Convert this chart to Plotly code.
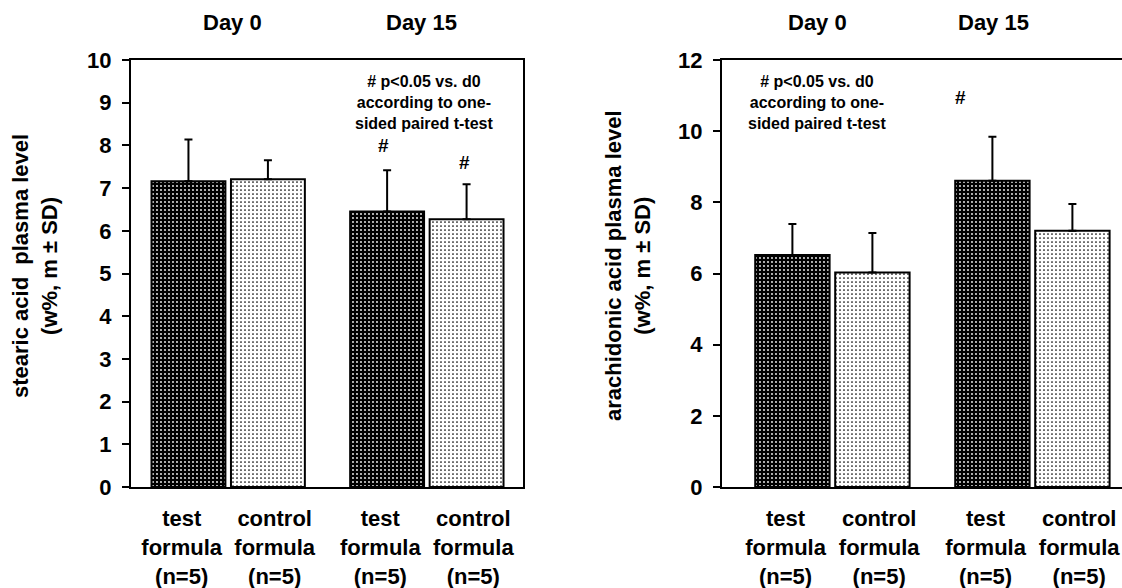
import plotly.graph_objects as go

# ---- data ----
categories = ["test<br>formula<br>(n=5)", "control<br>formula<br>(n=5)",
              "test<br>formula<br>(n=5)", "control<br>formula<br>(n=5)"]
days = ["Day 0", "Day 15"]
formula = ["test", "control", "test", "control"]
stearic_mean = [7.16, 7.21, 6.45, 6.27]
stearic_sd = [0.98, 0.44, 0.97, 0.82]
arach_mean = [6.52, 6.03, 8.61, 7.20]
arach_sd = [0.87, 1.11, 1.23, 0.75]
note = "# p<0.05 vs. d0<br>according to one-<br>sided paired t-test"
ytitle_left = "stearic acid  plasma level<br>(w%, m ± SD)"
ytitle_right = "arachidonic acid plasma level<br>(w%, m ± SD)"

W, H = 1122, 588
T = 60           # plot top at y=60
B = H - 487      # plot bottom at y=487
FONT = "Liberation Sans, Arial, Helvetica, sans-serif"


def px(xp):
    return xp / W


def py(yp):
    return (H - B - yp) / (H - T - B)


# layout positions (bars in pairs, gap between days)
pos = [i + 0.5 * (i // 2) for i in range(len(categories))]
label_pos = [p + (-0.085 if f == "test" else 0.085) for p, f in zip(pos, formula)]

styles = {
    "test": dict(bgcolor="black", fgcolor="white", solidity=0.16, size=4),
    "control": dict(bgcolor="white", fgcolor="black", solidity=0.15, size=4),
}

fig = go.Figure()


def add_panel(means, sds, xa, ya):
    for f in ["test", "control"]:
        idx = [i for i, v in enumerate(formula) if v == f]
        st = styles[f]
        fig.add_trace(go.Bar(
            x=[pos[i] for i in idx],
            y=[means[i] for i in idx],
            width=0.93,
            marker=dict(color=st["bgcolor"],
                        line=dict(color="black", width=2),
                        pattern=dict(shape=".", bgcolor=st["bgcolor"], fgcolor=st["fgcolor"],
                                     size=st["size"], solidity=st["solidity"], fillmode="replace")),
            error_y=dict(type="data", symmetric=False,
                         array=[sds[i] for i in idx], arrayminus=[0] * len(idx),
                         color="black", thickness=2, width=4),
            xaxis=xa, yaxis=ya, showlegend=False, hoverinfo="skip",
        ))


add_panel(stearic_mean, stearic_sd, "x", "y")
add_panel(arach_mean, arach_sd, "x2", "y2")

axis_common = dict(showline=True, linecolor="black", linewidth=2, showgrid=False,
                   zeroline=False, automargin=False, fixedrange=True)
xcommon = dict(axis_common, tickvals=label_pos, ticktext=categories, ticks="", tickangle=0,
               tickfont=dict(size=22, family=FONT, color="black", weight="bold"),
               ticklabelstandoff=11, mirror=True)
ycommon = dict(axis_common, ticks="outside", ticklen=7, tickwidth=2, tickcolor="black",
               tickfont=dict(size=22, family=FONT, color="black", weight="bold"),
               ticklabelstandoff=6)

fig.update_layout(
    width=W, height=H,
    margin=dict(l=0, r=0, t=T, b=B),
    paper_bgcolor="white", plot_bgcolor="white",
    font=dict(family=FONT, color="black"),
    barmode="overlay",
    xaxis=dict(xcommon, domain=[px(131), px(523)], range=[-0.723, 4.21], anchor="y"),
    yaxis=dict(ycommon, range=[0, 10], dtick=1, mirror=True, anchor="x"),
    xaxis2=dict(xcommon, domain=[px(722), 1.0], range=[-0.88, 4.12], anchor="y2"),
    yaxis2=dict(ycommon, range=[0, 12], dtick=2, mirror=False, anchor="x2"),
)

ann = []
bold = dict(family=FONT, color="black", weight="bold")
# day labels
for txt, xp in zip(days + days, [232, 421, 817, 993]):
    ann.append(dict(text=txt, x=px(xp), y=py(23), xref="paper", yref="paper",
                    showarrow=False, font=dict(bold, size=22), xanchor="center", yanchor="middle"))
# y titles
ann.append(dict(text=ytitle_left, x=px(35), y=py(266), xref="paper", yref="paper",
                textangle=-90, showarrow=False, font=dict(bold, size=22),
                xanchor="center", yanchor="middle"))
ann.append(dict(text=ytitle_right, x=px(628), y=py(266), xref="paper", yref="paper",
                textangle=-90, showarrow=False, font=dict(bold, size=22),
                xanchor="center", yanchor="middle"))
# notes
for xp in [424, 817]:
    ann.append(dict(text=note, x=px(xp), y=py(102), xref="paper", yref="paper",
                    showarrow=False, font=dict(bold, size=16), xanchor="center", yanchor="middle"))
# significance marks (placed above the SD whiskers)
for (xp, yp) in [(383, 145), (464, 162), (960, 97)]:
    ann.append(dict(text="#", x=px(xp), y=py(yp), xref="paper", yref="paper",
                    showarrow=False, font=dict(bold, size=19), xanchor="center", yanchor="middle"))
fig.update_layout(annotations=ann)

# remove the default page margin so the figure fills the window exactly
post = ("document.body.style.margin='0';"
        "document.body.style.padding='0';"
        "document.documentElement.style.overflow='hidden';")
fig.write_html("out.html", post_script=post, config={"displayModeBar": False, "staticPlot": True})
